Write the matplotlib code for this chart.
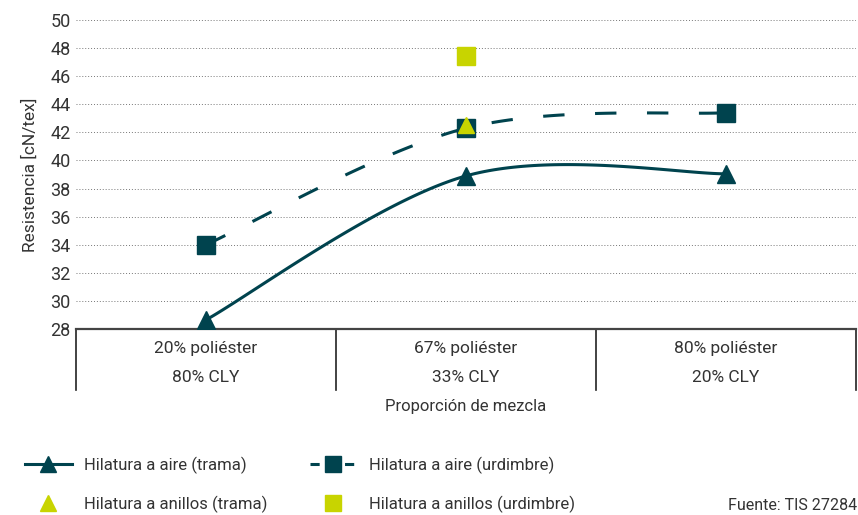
import matplotlib
matplotlib.use('Agg')
import matplotlib.pyplot as plt
from matplotlib.lines import Line2D
import numpy as np

# Datos
poliester = ['20% poliéster', '67% poliéster', '80% poliéster']
cly = ['80% CLY', '33% CLY', '20% CLY']
aire_trama = [28.65, 38.9, 39.05]
aire_urdimbre = [34.0, 42.3, 43.4]
anillos_trama = [42.5]      # solo 67% poliéster
anillos_urdimbre = [47.45]  # solo 67% poliéster
idx_anillos = [1]

oscuro = '#00434e'
amarillo = '#c8d400'
texto = '#333333'

plt.rcParams['font.family'] = ['Roboto', 'DejaVu Sans']
plt.rcParams['font.size'] = 12


# Curva suavizada tipo Excel (Bezier con tensión 1/6)
def suavizar(x, y, n=60):
    p = np.column_stack([x, y]).astype(float)
    xs, ys = [], []
    for i in range(len(p) - 1):
        p0 = p[i - 1] if i > 0 else p[i]
        p1, p2 = p[i], p[i + 1]
        p3 = p[i + 2] if i + 2 < len(p) else p[i + 1]
        c1 = p1 + (p2 - p0) / 6
        c2 = p2 - (p3 - p1) / 6
        t = np.linspace(0, 1, n)[:, None]
        b = ((1 - t) ** 3) * p1 + 3 * ((1 - t) ** 2) * t * c1 + 3 * (1 - t) * t ** 2 * c2 + t ** 3 * p2
        xs.extend(b[:, 0])
        ys.extend(b[:, 1])
    return np.array(xs), np.array(ys)


fig = plt.figure(figsize=(8.58, 5.15), dpi=100)
ax = fig.add_axes([76 / 858, 1 - 329 / 515, 780 / 858, 309 / 515])

x = np.arange(len(poliester))

# rejilla punteada
for v in range(30, 51, 2):
    ax.axhline(v, color='#777777', lw=0.7, ls=(0, (1, 2)), zorder=0)

sx, sy = suavizar(x, aire_trama)
ax.plot(sx, sy, color=oscuro, lw=2.2, zorder=2)
ax.plot(x, aire_trama, ls='none', marker='^', ms=12.5, color=oscuro, zorder=3)

sx, sy = suavizar(x, aire_urdimbre)
ax.plot(sx, sy, color=oscuro, lw=2.2, dashes=(7, 10), zorder=2)
ax.plot(x, aire_urdimbre, ls='none', marker='s', ms=13, color=oscuro, zorder=3)

ax.plot(idx_anillos, anillos_trama, ls='none', marker='^', ms=12, color=amarillo, zorder=4)
ax.plot(idx_anillos, anillos_urdimbre, ls='none', marker='s', ms=13, color=amarillo, zorder=4)

ax.set_xlim(-0.5, 2.5)
ax.set_ylim(28, 50)
ax.set_yticks(range(28, 51, 2))
ax.tick_params(axis='y', length=0, pad=4, labelsize=13, labelcolor=texto)
ax.set_xticks([])
for s in ['top', 'right', 'left']:
    ax.spines[s].set_visible(False)
ax.spines['bottom'].set_color('#444444')
ax.spines['bottom'].set_linewidth(1.6)
ax.set_ylabel('Resistencia [cN/tex]', fontsize=12.5, color=texto, labelpad=9)

# tabla de categorías bajo el eje
trans = ax.get_xaxis_transform()
for b in np.arange(len(poliester) + 1) - 0.5:
    ax.plot([b, b], [0, -0.197], transform=trans, color='#222222', lw=1.2, clip_on=False)
for i in x:
    ax.text(i, -0.063, poliester[i], transform=trans, ha='center', va='center', fontsize=12.5, color=texto)
    ax.text(i, -0.157, cly[i], transform=trans, ha='center', va='center', fontsize=12.5, color=texto)
ax.text(1, -0.252, 'Proporción de mezcla', transform=trans, ha='center', va='center', fontsize=12, color=texto)

# leyenda (dos columnas)
leg_kw = dict(loc='center left', frameon=False, borderpad=0, borderaxespad=0,
              handlelength=2.8, handletextpad=0.75, labelspacing=1.3,
              fontsize=12, labelcolor=texto)
h1 = [Line2D([], [], color=oscuro, lw=2.2, marker='^', ms=11),
      Line2D([], [], ls='none', color=amarillo, marker='^', ms=11)]
h2 = [Line2D([], [], color=oscuro, lw=2.2, dashes=(3, 8.3), marker='s', ms=11),
      Line2D([], [], ls='none', color=amarillo, marker='s', ms=11)]
fig.legend(h1, ['Hilatura a aire (trama)', 'Hilatura a anillos (trama)'],
           bbox_to_anchor=(25 / 858, 1 - 485 / 515), **leg_kw)
fig.legend(h2, ['Hilatura a aire (urdimbre)', 'Hilatura a anillos (urdimbre)'],
           bbox_to_anchor=(310 / 858, 1 - 485 / 515), **leg_kw)

fig.text(0.999, 1 - 505 / 515, 'Fuente: TIS 27284', ha='right', va='center', fontsize=11.5, color=texto)

fig.savefig('out.png', dpi=100)
